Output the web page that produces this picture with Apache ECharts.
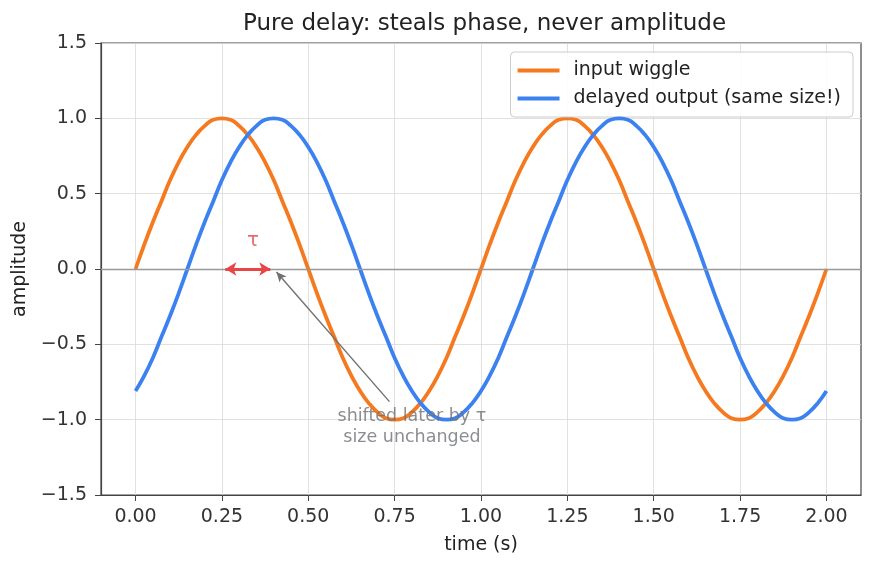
<!DOCTYPE html>
<html>
<head>
<meta charset="utf-8">
<script src="https://cdn.jsdelivr.net/npm/echarts@6/dist/echarts.min.js"></script>
<style>
  html, body { margin: 0; padding: 0; background: #fff; }
  #chart { width: 875px; height: 569px; }
</style>
</head>
<body>
<div id="chart"></div>
<script>
// time samples (s), every 0.025 s from 0 to 2
const times = [
  0.000, 0.025, 0.050, 0.075, 0.100, 0.125, 0.150, 0.175, 0.200, 0.225,
  0.250, 0.275, 0.300, 0.325, 0.350, 0.375, 0.400, 0.425, 0.450, 0.475,
  0.500, 0.525, 0.550, 0.575, 0.600, 0.625, 0.650, 0.675, 0.700, 0.725,
  0.750, 0.775, 0.800, 0.825, 0.850, 0.875, 0.900, 0.925, 0.950, 0.975,
  1.000, 1.025, 1.050, 1.075, 1.100, 1.125, 1.150, 1.175, 1.200, 1.225,
  1.250, 1.275, 1.300, 1.325, 1.350, 1.375, 1.400, 1.425, 1.450, 1.475,
  1.500, 1.525, 1.550, 1.575, 1.600, 1.625, 1.650, 1.675, 1.700, 1.725,
  1.750, 1.775, 1.800, 1.825, 1.850, 1.875, 1.900, 1.925, 1.950, 1.975,
  2.000
];
// values
const inputWiggle = [
  0.00, 0.16, 0.31, 0.45, 0.59, 0.71, 0.81, 0.89, 0.95, 0.99,
  1.00, 0.99, 0.95, 0.89, 0.81, 0.71, 0.59, 0.45, 0.31, 0.16,
  0.00, -0.16, -0.31, -0.45, -0.59, -0.71, -0.81, -0.89, -0.95, -0.99,
  -1.00, -0.99, -0.95, -0.89, -0.81, -0.71, -0.59, -0.45, -0.31, -0.16,
  0.00, 0.16, 0.31, 0.45, 0.59, 0.71, 0.81, 0.89, 0.95, 0.99,
  1.00, 0.99, 0.95, 0.89, 0.81, 0.71, 0.59, 0.45, 0.31, 0.16,
  0.00, -0.16, -0.31, -0.45, -0.59, -0.71, -0.81, -0.89, -0.95, -0.99,
  -1.00, -0.99, -0.95, -0.89, -0.81, -0.71, -0.59, -0.45, -0.31, -0.16,
  0.00
];
// values
const delayedOutput = [
  -0.81, -0.71, -0.59, -0.45, -0.31, -0.16, 0.00, 0.16, 0.31, 0.45,
  0.59, 0.71, 0.81, 0.89, 0.95, 0.99, 1.00, 0.99, 0.95, 0.89,
  0.81, 0.71, 0.59, 0.45, 0.31, 0.16, 0.00, -0.16, -0.31, -0.45,
  -0.59, -0.71, -0.81, -0.89, -0.95, -0.99, -1.00, -0.99, -0.95, -0.89,
  -0.81, -0.71, -0.59, -0.45, -0.31, -0.16, 0.00, 0.16, 0.31, 0.45,
  0.59, 0.71, 0.81, 0.89, 0.95, 0.99, 1.00, 0.99, 0.95, 0.89,
  0.81, 0.71, 0.59, 0.45, 0.31, 0.16, 0.00, -0.16, -0.31, -0.45,
  -0.59, -0.71, -0.81, -0.89, -0.95, -0.99, -1.00, -0.99, -0.95, -0.89,
  -0.81
];
const xTicks = [0, 0.25, 0.5, 0.75, 1.0, 1.25, 1.5, 1.75, 2.0];

// annotations (data coords)
const tauArrow = [[0.26, 0], [0.39, 0]];
const noteArrow = [[0.735, -0.88], [0.408, -0.02]];
const tauLabelAt = [0.34, 0.19];
const noteLabelAt = [0.8, -1.05];

const pair = (xs, ys) => xs.map((x, i) => [x, ys[i]]);
const fmtY = v => (v < 0 ? '\u2212' : '') + Math.abs(v).toFixed(1);

const chart = echarts.init(document.getElementById('chart'));
const textColor = '#333';
const font = 'DejaVu Sans';

chart.setOption({
  animation: false,
  textStyle: { fontFamily: font },
  title: {
    text: 'Pure delay: steals phase, never amplitude',
    left: 238, top: 8,
    textStyle: { fontFamily: font, fontSize: 23, fontWeight: 'normal', color: '#222' }
  },
  legend: {
    orient: 'vertical',
    right: 22, top: 52,
    data: ['input wiggle', 'delayed output (same size!)'],
    itemWidth: 42, itemHeight: 4, itemGap: 9,
    padding: [9, 12, 9, 7],
    borderColor: '#ccc', borderWidth: 1, borderRadius: 4,
    backgroundColor: 'rgba(255,255,255,0.85)',
    icon: 'rect',
    textStyle: { fontFamily: font, fontSize: 19, color: '#222', padding: [0, 0, 0, 9] }
  },
  grid: {
    left: 101, right: 14, top: 43, bottom: 74,
    show: true, borderColor: '#444', borderWidth: 1.2
  },
  xAxis: {
    type: 'value', min: -0.1, max: 2.1,
    name: 'time (s)', nameLocation: 'middle', nameGap: 41,
    nameTextStyle: { fontFamily: font, fontSize: 19, color: '#222' },
    axisLine: { show: true, onZero: false, lineStyle: { color: '#444', width: 1.2 } },
    axisTick: { show: true, length: 6, lineStyle: { color: '#444' }, customValues: xTicks },
    axisLabel: { customValues: xTicks, formatter: v => v.toFixed(2), color: textColor, fontFamily: font, fontSize: 19, margin: 13 },
    splitLine: { show: true, lineStyle: { color: '#d9d9d9', width: 0.8 } }
  },
  yAxis: {
    type: 'value', min: -1.5, max: 1.5, interval: 0.5,
    name: 'amplitude', nameLocation: 'middle', nameGap: 68,
    nameTextStyle: { fontFamily: font, fontSize: 19, color: '#222' },
    axisLine: { show: true, onZero: false, lineStyle: { color: '#444', width: 1.2 } },
    axisTick: { show: true, length: 6, lineStyle: { color: '#444' } },
    axisLabel: { formatter: fmtY, color: textColor, fontFamily: font, fontSize: 19, margin: 14 },
    splitLine: { show: true, lineStyle: { color: '#d9d9d9', width: 0.8 } }
  },
  series: [
    {
      name: 'zero',
      type: 'line', data: [], z: 1, silent: true,
      markLine: {
        silent: true, symbol: 'none', label: { show: false },
        lineStyle: { color: '#999', width: 1.4, type: 'solid' },
        data: [{ yAxis: 0 }]
      }
    },
    {
      name: 'input wiggle',
      type: 'line', data: pair(times, inputWiggle),
      smooth: true, showSymbol: false, z: 3,
      lineStyle: { color: '#f57a1f', width: 3.8 },
      itemStyle: { color: '#f57a1f' }
    },
    {
      name: 'delayed output (same size!)',
      type: 'line', data: pair(times, delayedOutput),
      smooth: true, showSymbol: false, z: 4,
      lineStyle: { color: '#3b82f0', width: 3.8 },
      itemStyle: { color: '#3b82f0' }
    },
    {
      name: 'annotations',
      type: 'scatter', z: 5, silent: true,
      symbolSize: 0,
      data: [
        { value: tauLabelAt, label: { show: true, formatter: '\u03c4', color: '#e84545', fontSize: 20, position: 'inside' } },
        { value: noteLabelAt, label: { show: true, formatter: 'shifted later by \u03c4\nsize unchanged', color: '#6e7075', fontSize: 17.5, lineHeight: 21, align: 'center', position: 'inside' } }
      ],
      markLine: {
        silent: true, label: { show: false }, animation: false,
        data: [
          [
            { coord: tauArrow[0], symbol: 'arrow', symbolSize: [10, 11], lineStyle: { color: '#e84545', width: 2.8, type: 'solid' } },
            { coord: tauArrow[1], symbol: 'arrow', symbolSize: [10, 11] }
          ],
          [
            { coord: noteArrow[0], symbol: 'none', lineStyle: { color: '#707070', width: 1.4, type: 'solid' } },
            { coord: noteArrow[1], symbol: 'arrow', symbolSize: [7, 10] }
          ]
        ]
      }
    }
  ]
});
</script>
</body>
</html>
